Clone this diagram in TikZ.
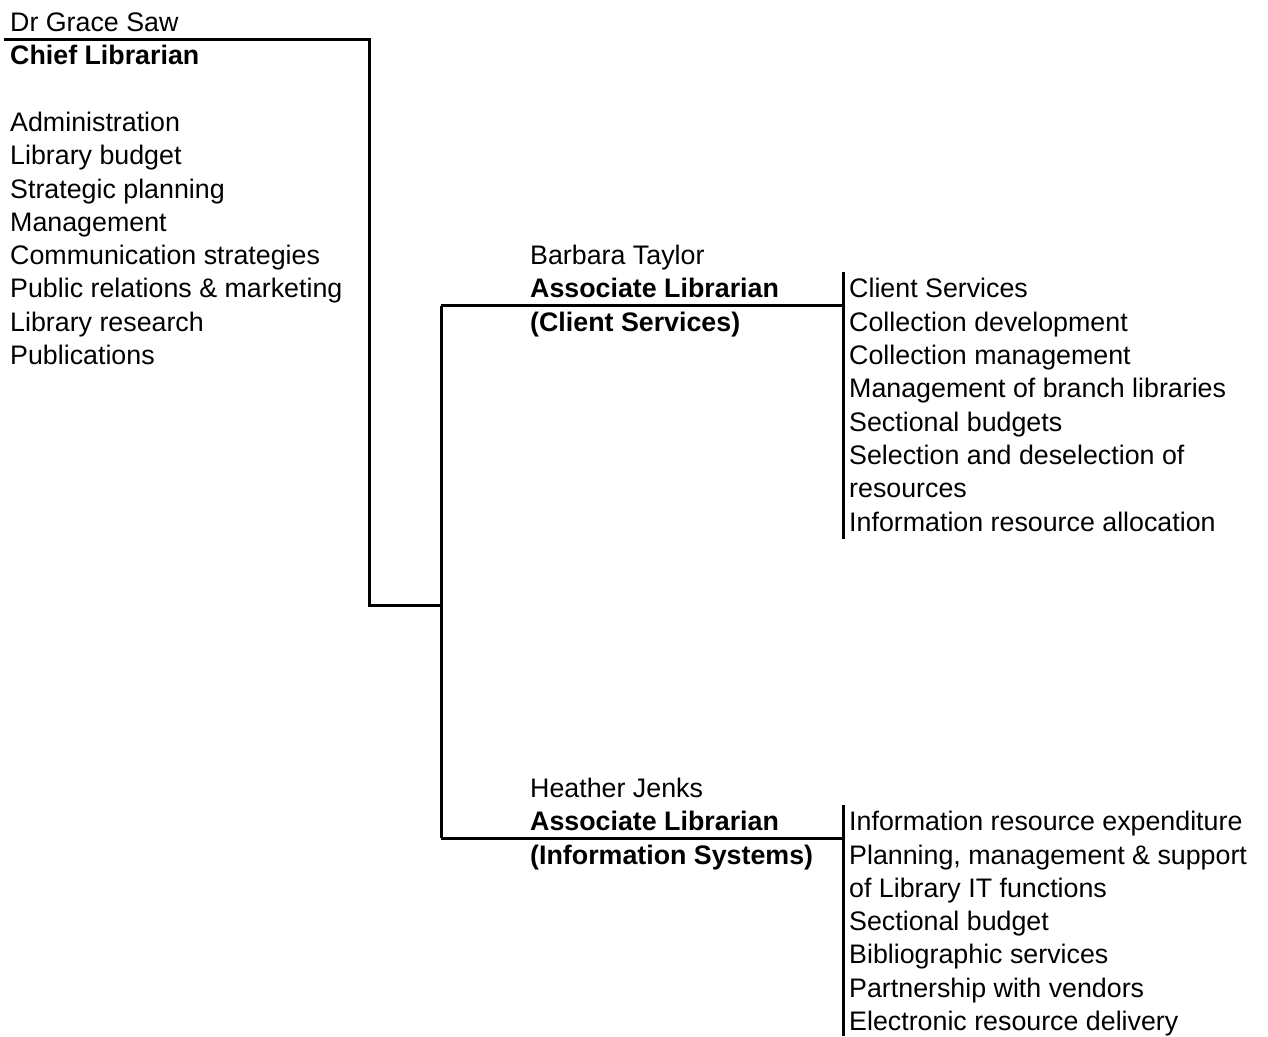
\documentclass[tikz,border=0pt]{standalone}
\usepackage{fontspec}
\setmainfont{Liberation Sans}
\usetikzlibrary{positioning}

\tikzset{
  txt/.style={anchor=north west, inner sep=0pt, align=left,
    font=\fontsize{26.8}{33.3}\selectfont},
  bar/.style={line width=3pt}
}

\begin{document}
\begin{tikzpicture}[x=1pt,y=-1pt]
    \useasboundingbox (0,0) rectangle (1268,1036);

    % people
    \node[txt] (chief) at (10,8) {\strut Dr Grace Saw\\
      \textbf{Chief Librarian}\\
      ~\\
      Administration\\
      Library budget\\
      Strategic planning\\
      Management\\
      Communication strategies\\
      Public relations \& marketing\\
      Library research\\
      Publications};
    \node[txt] (cs) at (530,241.1) {\strut Barbara Taylor\\
      \textbf{Associate Librarian}\\
      \textbf{(Client Services)}};
    \node[txt] (is) at (530,773.9) {\strut Heather Jenks\\
      \textbf{Associate Librarian}\\
      \textbf{(Information Systems)}};

    % duties
    \node[txt] (csduty) at (849,274.4) {\strut Client Services\\
      Collection development\\
      Collection management\\
      Management of branch libraries\\
      Sectional budgets\\
      Selection and deselection of\\
      resources\\
      Information resource allocation};
    \node[txt] (isduty) at (849,807.2) {\strut Information resource expenditure\\
      Planning, management \& support\\
      of Library IT functions\\
      Sectional budget\\
      Bibliographic services\\
      Partnership with vendors\\
      Electronic resource delivery};

    % lines
    \coordinate (chiefline) at (4,39.5);
    \coordinate (chiefdrop) at (369.5,605);
    \coordinate (hub) at (441,605);
    \coordinate (csin) at (441,305.5);
    \coordinate (isin) at (441,838);
    \coordinate (csbartop) at (843,272);
    \coordinate (csbarbot) at (843,539);
    \coordinate (isbartop) at (843,805);
    \coordinate (isbarbot) at (843,1036);

    \draw[bar] (chiefline) -| (chiefdrop) -- (hub);
    \draw[bar] (csin) -- (isin);
    \draw[bar] (csin) -- (csin -| csbartop);
    \draw[bar] (isin) -- (isin -| isbartop);
    \draw[bar] (csbartop) -- (csbarbot);
    \draw[bar] (isbartop) -- (isbarbot);
\end{tikzpicture}
\end{document}
